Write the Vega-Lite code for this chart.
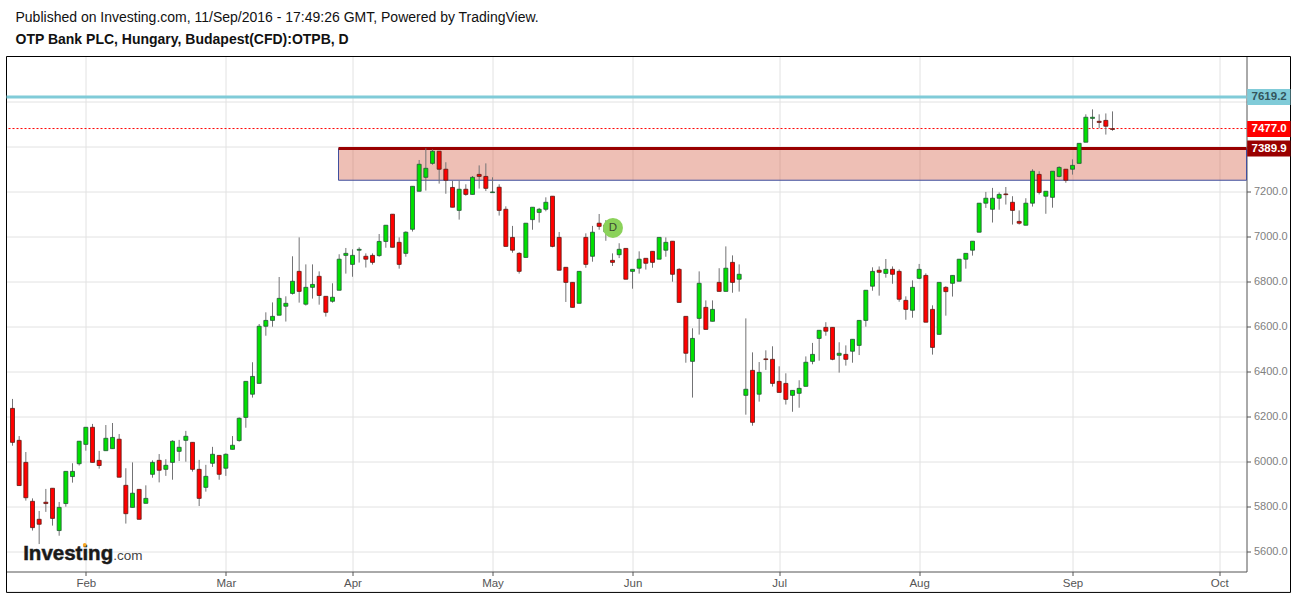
{
  "$schema": "https://vega.github.io/schema/vega-lite/v6.json",
  "autosize": {"type": "none"},
  "padding": {"left": 6.5, "top": 56.5, "right": 50.5, "bottom": 23.5},
  "width": 1240,
  "height": 515,
  "background": "#ffffff",
  "title": {
    "text": "Published on Investing.com, 11/Sep/2016 - 17:49:26 GMT, Powered by TradingView.",
    "subtitle": "OTP Bank PLC, Hungary, Budapest(CFD):OTPB, D",
    "anchor": "start",
    "frame": "group",
    "dx": 9,
    "offset": 9,
    "font": "Liberation Sans",
    "fontSize": 14,
    "fontWeight": "normal",
    "color": "#111111",
    "subtitleFont": "Liberation Sans",
    "subtitleFontSize": 14,
    "subtitleFontWeight": "bold",
    "subtitleColor": "#111111",
    "subtitlePadding": 8
  },
  "datasets": {
    "candles": [
      {"bar":0,"open":6235,"high":6277,"low":6069,"close":6084},
      {"bar":1,"open":6093,"high":6112,"low":5892,"close":5892},
      {"bar":2,"open":5995,"high":6041,"low":5825,"close":5838},
      {"bar":3,"open":5822,"high":5835,"low":5692,"close":5705},
      {"bar":4,"open":5742,"high":5779,"low":5632,"close":5720},
      {"bar":5,"open":5818,"high":5877,"low":5775,"close":5812},
      {"bar":6,"open":5880,"high":5880,"low":5714,"close":5746},
      {"bar":7,"open":5692,"high":5819,"low":5669,"close":5795},
      {"bar":8,"open":5812,"high":5955,"low":5798,"close":5955},
      {"bar":9,"open":5932,"high":5991,"low":5905,"close":5955},
      {"bar":10,"open":5989,"high":6089,"low":5981,"close":6089},
      {"bar":11,"open":6075,"high":6151,"low":6047,"close":6151},
      {"bar":12,"open":6151,"high":6166,"low":5995,"close":5995},
      {"bar":13,"open":6004,"high":6046,"low":5967,"close":5981},
      {"bar":14,"open":6047,"high":6161,"low":6047,"close":6102},
      {"bar":15,"open":6056,"high":6170,"low":6056,"close":6106},
      {"bar":16,"open":6098,"high":6121,"low":5929,"close":5929},
      {"bar":17,"open":5893,"high":5969,"low":5723,"close":5767},
      {"bar":18,"open":5795,"high":5995,"low":5795,"close":5858},
      {"bar":19,"open":5875,"high":5875,"low":5742,"close":5742},
      {"bar":20,"open":5813,"high":5893,"low":5813,"close":5835},
      {"bar":21,"open":5942,"high":6004,"low":5927,"close":5995},
      {"bar":22,"open":6004,"high":6032,"low":5906,"close":5960},
      {"bar":23,"open":5964,"high":6009,"low":5935,"close":5982},
      {"bar":24,"open":5995,"high":6093,"low":5918,"close":6089},
      {"bar":25,"open":6044,"high":6095,"low":6001,"close":6062},
      {"bar":26,"open":6093,"high":6135,"low":5998,"close":6111},
      {"bar":27,"open":6084,"high":6084,"low":5954,"close":5964},
      {"bar":28,"open":5964,"high":6006,"low":5801,"close":5835},
      {"bar":29,"open":5884,"high":5984,"low":5865,"close":5933},
      {"bar":30,"open":5991,"high":6064,"low":5975,"close":6031},
      {"bar":31,"open":6026,"high":6026,"low":5918,"close":5942},
      {"bar":32,"open":5969,"high":6035,"low":5935,"close":6031},
      {"bar":33,"open":6053,"high":6112,"low":6053,"close":6071},
      {"bar":34,"open":6092,"high":6195,"low":6087,"close":6191},
      {"bar":35,"open":6195,"high":6355,"low":6149,"close":6355},
      {"bar":36,"open":6298,"high":6440,"low":6283,"close":6377},
      {"bar":37,"open":6346,"high":6610,"low":6346,"close":6600},
      {"bar":38,"open":6600,"high":6662,"low":6558,"close":6626},
      {"bar":39,"open":6626,"high":6706,"low":6598,"close":6644},
      {"bar":40,"open":6649,"high":6819,"low":6649,"close":6724},
      {"bar":41,"open":6689,"high":6733,"low":6621,"close":6702},
      {"bar":42,"open":6746,"high":6911,"low":6741,"close":6800},
      {"bar":43,"open":6844,"high":6995,"low":6705,"close":6755},
      {"bar":44,"open":6698,"high":6875,"low":6692,"close":6773},
      {"bar":45,"open":6773,"high":6875,"low":6723,"close":6786},
      {"bar":46,"open":6822,"high":6844,"low":6696,"close":6737},
      {"bar":47,"open":6733,"high":6733,"low":6643,"close":6662},
      {"bar":48,"open":6711,"high":6791,"low":6705,"close":6729},
      {"bar":49,"open":6760,"high":6920,"low":6760,"close":6898},
      {"bar":50,"open":6915,"high":6948,"low":6834,"close":6924},
      {"bar":51,"open":6875,"high":6942,"low":6820,"close":6915},
      {"bar":52,"open":6938,"high":6951,"low":6883,"close":6942},
      {"bar":53,"open":6911,"high":6924,"low":6861,"close":6898},
      {"bar":54,"open":6915,"high":6924,"low":6874,"close":6884},
      {"bar":55,"open":6914,"high":7010,"low":6909,"close":6977},
      {"bar":56,"open":6977,"high":7049,"low":6949,"close":7049},
      {"bar":57,"open":7098,"high":7098,"low":6951,"close":6951},
      {"bar":58,"open":6973,"high":6995,"low":6856,"close":6875},
      {"bar":59,"open":6924,"high":7022,"low":6909,"close":7018},
      {"bar":60,"open":7031,"high":7222,"low":7021,"close":7222},
      {"bar":61,"open":7200,"high":7339,"low":7200,"close":7320},
      {"bar":62,"open":7262,"high":7391,"low":7203,"close":7302},
      {"bar":63,"open":7324,"high":7386,"low":7318,"close":7378},
      {"bar":64,"open":7378,"high":7378,"low":7234,"close":7298},
      {"bar":65,"open":7298,"high":7329,"low":7189,"close":7249},
      {"bar":66,"open":7217,"high":7247,"low":7129,"close":7129},
      {"bar":67,"open":7115,"high":7247,"low":7074,"close":7209},
      {"bar":68,"open":7209,"high":7231,"low":7180,"close":7186},
      {"bar":69,"open":7186,"high":7268,"low":7186,"close":7262},
      {"bar":70,"open":7275,"high":7315,"low":7212,"close":7266},
      {"bar":71,"open":7266,"high":7324,"low":7201,"close":7213},
      {"bar":72,"open":7194,"high":7262,"low":7194,"close":7197},
      {"bar":73,"open":7218,"high":7231,"low":7092,"close":7115},
      {"bar":74,"open":7120,"high":7133,"low":6955,"close":6955},
      {"bar":75,"open":6995,"high":7046,"low":6927,"close":6938},
      {"bar":76,"open":6924,"high":6929,"low":6834,"close":6844},
      {"bar":77,"open":6906,"high":7058,"low":6906,"close":7058},
      {"bar":78,"open":7074,"high":7129,"low":7029,"close":7129},
      {"bar":79,"open":7106,"high":7126,"low":7061,"close":7120},
      {"bar":80,"open":7120,"high":7173,"low":7111,"close":7151},
      {"bar":81,"open":7178,"high":7178,"low":6951,"close":6955},
      {"bar":82,"open":6995,"high":7019,"low":6849,"close":6849},
      {"bar":83,"open":6862,"high":6862,"low":6708,"close":6795},
      {"bar":84,"open":6795,"high":6795,"low":6684,"close":6684},
      {"bar":85,"open":6702,"high":6844,"low":6702,"close":6844},
      {"bar":86,"open":6995,"high":7013,"low":6860,"close":6875},
      {"bar":87,"open":6911,"high":7046,"low":6887,"close":7018},
      {"bar":88,"open":7058,"high":7099,"low":7029,"close":7044},
      {"bar":89,"open":7020,"high":7072,"low":6980,"close":7050},
      {"bar":90,"open":6893,"high":6924,"low":6868,"close":6884},
      {"bar":91,"open":6918,"high":6969,"low":6903,"close":6942},
      {"bar":92,"open":6946,"high":6946,"low":6809,"close":6809},
      {"bar":93,"open":6844,"high":6853,"low":6767,"close":6853},
      {"bar":94,"open":6858,"high":6933,"low":6834,"close":6898},
      {"bar":95,"open":6902,"high":6902,"low":6852,"close":6880},
      {"bar":96,"open":6933,"high":6933,"low":6860,"close":6884},
      {"bar":97,"open":6898,"high":6995,"low":6898,"close":6995},
      {"bar":98,"open":6938,"high":6995,"low":6909,"close":6973},
      {"bar":99,"open":6978,"high":6978,"low":6798,"close":6831},
      {"bar":100,"open":6853,"high":6858,"low":6706,"close":6706},
      {"bar":101,"open":6644,"high":6644,"low":6438,"close":6480},
      {"bar":102,"open":6444,"high":6591,"low":6283,"close":6546},
      {"bar":103,"open":6635,"high":6844,"low":6563,"close":6791},
      {"bar":104,"open":6684,"high":6715,"low":6586,"close":6586},
      {"bar":105,"open":6622,"high":6715,"low":6622,"close":6675},
      {"bar":106,"open":6795,"high":6858,"low":6755,"close":6755},
      {"bar":107,"open":6755,"high":6955,"low":6755,"close":6858},
      {"bar":108,"open":6884,"high":6915,"low":6749,"close":6795},
      {"bar":109,"open":6809,"high":6875,"low":6754,"close":6831},
      {"bar":110,"open":6293,"high":6635,"low":6207,"close":6320},
      {"bar":111,"open":6404,"high":6484,"low":6158,"close":6173},
      {"bar":112,"open":6298,"high":6441,"low":6265,"close":6395},
      {"bar":113,"open":6455,"high":6493,"low":6406,"close":6452},
      {"bar":114,"open":6453,"high":6511,"low":6332,"close":6346},
      {"bar":115,"open":6355,"high":6422,"low":6306,"close":6306},
      {"bar":116,"open":6346,"high":6391,"low":6252,"close":6275},
      {"bar":117,"open":6293,"high":6315,"low":6220,"close":6315},
      {"bar":118,"open":6302,"high":6360,"low":6238,"close":6324},
      {"bar":119,"open":6333,"high":6466,"low":6333,"close":6440},
      {"bar":120,"open":6444,"high":6526,"low":6431,"close":6475},
      {"bar":121,"open":6546,"high":6582,"low":6447,"close":6582},
      {"bar":122,"open":6595,"high":6618,"low":6558,"close":6578},
      {"bar":123,"open":6595,"high":6595,"low":6449,"close":6453},
      {"bar":124,"open":6471,"high":6529,"low":6394,"close":6480},
      {"bar":125,"open":6475,"high":6515,"low":6425,"close":6453},
      {"bar":126,"open":6489,"high":6542,"low":6438,"close":6542},
      {"bar":127,"open":6515,"high":6626,"low":6472,"close":6626},
      {"bar":128,"open":6626,"high":6760,"low":6598,"close":6760},
      {"bar":129,"open":6778,"high":6862,"low":6758,"close":6844},
      {"bar":130,"open":6849,"high":6866,"low":6736,"close":6840},
      {"bar":131,"open":6835,"high":6899,"low":6816,"close":6853},
      {"bar":132,"open":6853,"high":6866,"low":6789,"close":6831},
      {"bar":133,"open":6844,"high":6853,"low":6709,"close":6720},
      {"bar":134,"open":6715,"high":6733,"low":6629,"close":6675},
      {"bar":135,"open":6671,"high":6804,"low":6638,"close":6773},
      {"bar":136,"open":6813,"high":6877,"low":6809,"close":6853},
      {"bar":137,"open":6826,"high":6835,"low":6618,"close":6618},
      {"bar":138,"open":6675,"high":6693,"low":6474,"close":6506},
      {"bar":139,"open":6564,"high":6795,"low":6564,"close":6795},
      {"bar":140,"open":6773,"high":6778,"low":6647,"close":6754},
      {"bar":141,"open":6791,"high":6826,"low":6732,"close":6826},
      {"bar":142,"open":6800,"high":6898,"low":6800,"close":6898},
      {"bar":143,"open":6898,"high":6924,"low":6856,"close":6924},
      {"bar":144,"open":6938,"high":6978,"low":6914,"close":6978},
      {"bar":145,"open":7018,"high":7147,"low":7018,"close":7147},
      {"bar":146,"open":7147,"high":7197,"low":7126,"close":7169},
      {"bar":147,"open":7120,"high":7215,"low":7061,"close":7169},
      {"bar":148,"open":7169,"high":7195,"low":7118,"close":7186},
      {"bar":149,"open":7188,"high":7219,"low":7141,"close":7185},
      {"bar":150,"open":7151,"high":7178,"low":7052,"close":7115},
      {"bar":151,"open":7066,"high":7115,"low":7052,"close":7058},
      {"bar":152,"open":7049,"high":7169,"low":7049,"close":7147},
      {"bar":153,"open":7147,"high":7298,"low":7132,"close":7289},
      {"bar":154,"open":7275,"high":7289,"low":7186,"close":7195},
      {"bar":155,"open":7178,"high":7200,"low":7100,"close":7200},
      {"bar":156,"open":7173,"high":7289,"low":7127,"close":7289},
      {"bar":157,"open":7266,"high":7311,"low":7262,"close":7306},
      {"bar":158,"open":7298,"high":7298,"low":7238,"close":7249},
      {"bar":159,"open":7298,"high":7342,"low":7274,"close":7315},
      {"bar":160,"open":7324,"high":7413,"low":7324,"close":7413},
      {"bar":161,"open":7418,"high":7542,"low":7418,"close":7529},
      {"bar":162,"open":7524,"high":7564,"low":7480,"close":7529},
      {"bar":163,"open":7511,"high":7542,"low":7480,"close":7506},
      {"bar":164,"open":7515,"high":7546,"low":7452,"close":7489},
      {"bar":165,"open":7478,"high":7555,"low":7469,"close":7475}
    ],
    "zone": [{"start": 48.9, "end": 185.1, "top": 7389.9, "bottom": 7249}],
    "tags": [
      {"name": "resistance", "price": 7619.2},
      {"name": "last", "price": 7477.0},
      {"name": "zone top", "price": 7389.9}
    ],
    "marker": [{"bar": 90.07, "price": 7037, "label": "D"}],
    "logo": [
      {"bar": 1.6, "price": 5561, "label": "Investing", "part": "name"},
      {"bar": 15.1, "price": 5561, "label": ".com", "part": "suffix"}
    ],
    "logoDot": [{"bar": 10.83, "price": 5628}],
    "frame": [{"left": -0.9, "right": 191.7, "top": 7799, "bottom": 5417}]
  },
  "layer": [
    {
      "data": {"name": "frame"},
      "mark": {"type": "rect", "fill": null, "stroke": "#000000", "strokeWidth": 1},
      "encoding": {
        "x": {
          "field": "left",
          "type": "quantitative",
          "scale": {"domain": [-0.9, 185.1], "nice": false, "zero": false, "padding": 0},
          "axis": {
            "title": null,
            "orient": "bottom",
            "values": [11, 32, 51, 72, 93, 115, 136, 159, 181],
            "labelExpr": "['Feb','Mar','Apr','May','Jun','Jul','Aug','Sep','Oct'][indexof([11,32,51,72,93,115,136,159,181], datum.value)]",
            "grid": true,
            "gridColor": "#e2e2e2",
            "gridWidth": 1,
            "domainColor": "#555555",
            "tickColor": "#555555",
            "tickSize": 4,
            "labelFont": "Liberation Sans",
            "labelFontSize": 11.5,
            "labelColor": "#555555",
            "labelPadding": 2,
            "labelFlush": false,
            "labelOverlap": false
          }
        },
        "x2": {"field": "right"},
        "y": {
          "field": "bottom",
          "type": "quantitative",
          "scale": {"domain": [5510, 7799], "nice": false, "zero": false, "padding": 0},
          "axis": {
            "title": null,
            "orient": "right",
            "values": [5600, 5800, 6000, 6200, 6400, 6600, 6800, 7000, 7200, 7400, 7600],
            "labelExpr": "datum.value >= 7400 ? '' : format(datum.value, '.1f')",
            "grid": true,
            "gridColor": "#e2e2e2",
            "gridWidth": 1,
            "domainColor": "#555555",
            "tickColor": "#555555",
            "tickSize": 4,
            "labelFont": "Liberation Sans",
            "labelFontSize": 11,
            "labelColor": "#808080",
            "labelPadding": 3,
            "labelOverlap": false
          }
        },
        "y2": {"field": "top"}
      }
    },
    {
      "data": {"name": "zone"},
      "mark": {"type": "rect", "fill": "#d45f46", "fillOpacity": 0.4, "stroke": "#3f4f9f", "strokeWidth": 1},
      "encoding": {
        "x": {"field": "start", "type": "quantitative"},
        "x2": {"field": "end"},
        "y": {"field": "bottom", "type": "quantitative"},
        "y2": {"field": "top"}
      }
    },
    {
      "data": {"name": "tags"},
      "transform": [{"filter": "datum.name === 'resistance'"}],
      "mark": {"type": "rule", "color": "#80cbd8", "strokeWidth": 3},
      "encoding": {"y": {"field": "price", "type": "quantitative"}}
    },
    {
      "data": {"name": "tags"},
      "transform": [{"filter": "datum.name === 'last'"}],
      "mark": {"type": "rule", "color": "#ff0000", "strokeWidth": 1, "strokeDash": [2, 2], "yOffset": -0.4},
      "encoding": {"y": {"field": "price", "type": "quantitative"}}
    },
    {
      "data": {"name": "zone"},
      "mark": {"type": "rule", "color": "#990000", "strokeWidth": 3},
      "encoding": {
        "x": {"field": "start", "type": "quantitative"},
        "x2": {"field": "end"},
        "y": {"field": "top", "type": "quantitative"}
      }
    },
    {
      "data": {"name": "candles"},
      "mark": {"type": "rule", "color": "#737375", "strokeWidth": 1},
      "encoding": {
        "x": {"field": "bar", "type": "quantitative"},
        "y": {"field": "low", "type": "quantitative"},
        "y2": {"field": "high"}
      }
    },
    {
      "data": {"name": "candles"},
      "mark": {"type": "bar", "orient": "vertical", "size": 4, "strokeWidth": 0.8},
      "encoding": {
        "x": {"field": "bar", "type": "quantitative"},
        "y": {"field": "open", "type": "quantitative"},
        "y2": {"field": "close"},
        "fill": {"condition": {"test": "datum.close >= datum.open", "value": "#00e000"}, "value": "#ff0000"},
        "stroke": {"condition": {"test": "datum.close >= datum.open", "value": "#225437"}, "value": "#5b1a13"}
      }
    },
    {
      "data": {"name": "marker"},
      "mark": {"type": "point", "shape": "circle", "filled": true, "size": 400, "color": "#8bd25a", "opacity": 1},
      "encoding": {
        "x": {"field": "bar", "type": "quantitative"},
        "y": {"field": "price", "type": "quantitative"}
      }
    },
    {
      "data": {"name": "marker"},
      "mark": {"type": "text", "font": "Liberation Sans", "fontSize": 11.5, "color": "#3a4a30", "baseline": "middle"},
      "encoding": {
        "x": {"field": "bar", "type": "quantitative"},
        "y": {"field": "price", "type": "quantitative"},
        "text": {"field": "label"}
      }
    },
    {
      "data": {"name": "logo"},
      "transform": [{"filter": "datum.part === 'name'"}],
      "mark": {"type": "text", "font": "Liberation Sans", "fontSize": 20.5, "fontWeight": "bold", "color": "#1a1a1a", "stroke": "#1a1a1a", "strokeWidth": 0.5, "align": "left", "baseline": "alphabetic"},
      "encoding": {
        "x": {"field": "bar", "type": "quantitative"},
        "y": {"field": "price", "type": "quantitative"},
        "text": {"field": "label"}
      }
    },
    {
      "data": {"name": "logo"},
      "transform": [{"filter": "datum.part === 'suffix'"}],
      "mark": {"type": "text", "font": "Liberation Sans", "fontSize": 13.5, "color": "#444444", "align": "left", "baseline": "alphabetic"},
      "encoding": {
        "x": {"field": "bar", "type": "quantitative"},
        "y": {"field": "price", "type": "quantitative"},
        "text": {"field": "label"}
      }
    },
    {
      "data": {"name": "logoDot"},
      "mark": {"type": "point", "shape": "circle", "filled": true, "size": 14, "color": "#f5a623", "opacity": 1},
      "encoding": {
        "x": {"field": "bar", "type": "quantitative"},
        "y": {"field": "price", "type": "quantitative"}
      }
    },
    {
      "data": {"name": "tags"},
      "mark": {"type": "rect", "height": 16},
      "encoding": {
        "x": {"datum": 185.2, "type": "quantitative"},
        "x2": {"datum": 191.7},
        "y": {"field": "price", "type": "quantitative"},
        "fill": {
          "field": "name",
          "type": "nominal",
          "scale": {"domain": ["resistance", "last", "zone top"], "range": ["#80cbd8", "#ff0000", "#990000"]},
          "legend": null
        }
      }
    },
    {
      "data": {"name": "tags"},
      "mark": {"type": "text", "font": "Liberation Sans", "fontSize": 11.5, "fontWeight": "bold", "baseline": "middle"},
      "encoding": {
        "x": {"datum": 188.5, "type": "quantitative"},
        "y": {"field": "price", "type": "quantitative"},
        "text": {"field": "price", "type": "quantitative", "format": ".1f"},
        "color": {
          "condition": {"test": "datum.name === 'resistance'", "value": "#33555c"},
          "value": "#ffffff"
        }
      }
    }
  ],
  "config": {
    "view": {"stroke": null},
    "style": {"cell": {"stroke": null}}
  }
}
